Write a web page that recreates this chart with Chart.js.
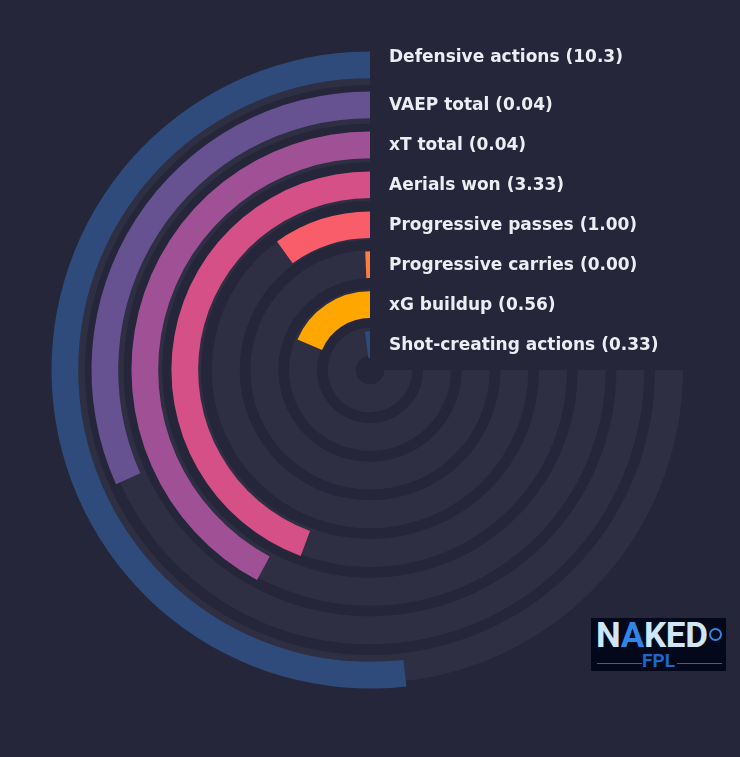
<!DOCTYPE html>
<html><head><meta charset="utf-8">
<script src="https://cdn.jsdelivr.net/npm/chart.js@4.4.1/dist/chart.umd.min.js"></script>
<style>
html,body{margin:0;padding:0;background:#25263a;width:740px;height:757px;overflow:hidden;}
.wrap{position:absolute;left:0;top:0;width:740px;height:740px;}
.logo{position:absolute;left:591px;top:618px;width:135px;height:53px;background:#03081a;overflow:hidden;}
.nk{position:absolute;left:5px;top:-3px;font:700 35px Roboto,"DejaVu Sans",sans-serif;color:#cfe6f6;letter-spacing:-0.3px;white-space:nowrap;}
.nk .a{color:#2f86e6;}
.nk .ic{display:inline-block;width:9px;height:9px;border:2px solid #2f86e6;border-radius:50%;vertical-align:top;margin-top:13px;margin-left:1px;}
.fpl{position:absolute;left:0;top:31px;width:135px;text-align:center;font:700 19px Roboto,"DejaVu Sans",sans-serif;color:#1c66cc;}
.ln{position:absolute;top:45px;height:1px;background:#1c66cc;}
</style></head><body>
<div class="wrap"><canvas id="tracks"></canvas></div>
<div class="wrap"><canvas id="bars"></canvas></div>
<div class="logo">
  <div class="nk">N<span class="a">A</span>KED<span class="ic"></span></div>
  <div class="fpl">FPL</div>
  <div class="ln" style="left:6px;width:45px"></div>
  <div class="ln" style="left:86px;width:45px"></div>
</div>
<script>
// ---- data (outermost ring first) ----
const metrics = ["Defensive actions","VAEP total","xT total","Aerials won","Progressive passes","Progressive carries","xG buildup","Shot-creating actions"];
const values = [10.3, 0.04, 0.04, 3.33, 1.00, 0.00, 0.56, 0.33];
const percentiles = [69.1, 42.3, 56.2, 59.1, 13.3, 0.85, 24.9, 2.8];
const barColors = ["#2f4b7c","#665191","#a05195","#d45087","#f95d6a","#ff7c43","#ffa600","#2f4b7c"];

// ---- style ----
const TRACK_COLOR = "#2e2f43";
const CLEAR = "rgba(0,0,0,0)";
const TRACK_OUT = 313, TRACK_IN = 14.3, TRACK_W = 28, TRACK_GAP = 10.67;
const BAR_OUT = 318.5, BAR_IN = 12, BAR_W = 26.7, BAR_GAP = 13.27;

function fmt(v){ return v >= 10 ? v.toFixed(1) : v.toFixed(2); }

const baseOpts = (outR, inR) => ({
  responsive: true, maintainAspectRatio: false, animation: false, events: [],
  rotation: 90, circumference: 270,
  radius: outR, cutout: (inR / outR * 100) + "%",
  layout: { padding: 0 },
  elements: { arc: { borderWidth: 0 } },
  plugins: { legend: { display: false }, tooltip: { enabled: false } }
});

const trackSets = [];
metrics.forEach((m, i) => {
  trackSets.push({ data: [100], backgroundColor: [TRACK_COLOR], weight: TRACK_W });
  if (i < metrics.length - 1) trackSets.push({ data: [100], backgroundColor: [CLEAR], weight: TRACK_GAP });
});
new Chart(document.getElementById("tracks"), {
  type: "doughnut",
  data: { labels: ["track"], datasets: trackSets },
  options: baseOpts(TRACK_OUT, TRACK_IN)
});

const barSets = [];
const barIndex = [];
metrics.forEach((m, i) => {
  barIndex.push(barSets.length);
  barSets.push({ data: [100 - percentiles[i], percentiles[i]], backgroundColor: [CLEAR, barColors[i]], weight: BAR_W });
  if (i < metrics.length - 1) barSets.push({ data: [100], backgroundColor: [CLEAR], weight: BAR_GAP });
});

const labelPlugin = {
  id: "ringLabels",
  afterDatasetsDraw(chart) {
    const ctx = chart.ctx;
    ctx.save();
    ctx.font = "bold 17px 'DejaVu Sans', sans-serif";
    ctx.fillStyle = "#eceef4";
    ctx.textAlign = "left";
    ctx.textBaseline = "middle";
    metrics.forEach((m, i) => {
      const arc = chart.getDatasetMeta(barIndex[i]).data[1];
      const p = arc.getProps(["x", "y", "innerRadius", "outerRadius"], true);
      const nudge = i === 0 ? -7.5 : 1;
      ctx.fillText(m + " (" + fmt(values[i]) + ")", p.x + 19, p.y - (p.innerRadius + p.outerRadius) / 2 + nudge);
    });
    ctx.restore();
  }
};

new Chart(document.getElementById("bars"), {
  type: "doughnut",
  data: { labels: ["rest", "value"], datasets: barSets },
  options: baseOpts(BAR_OUT, BAR_IN),
  plugins: [labelPlugin]
});
</script>
</body></html>
